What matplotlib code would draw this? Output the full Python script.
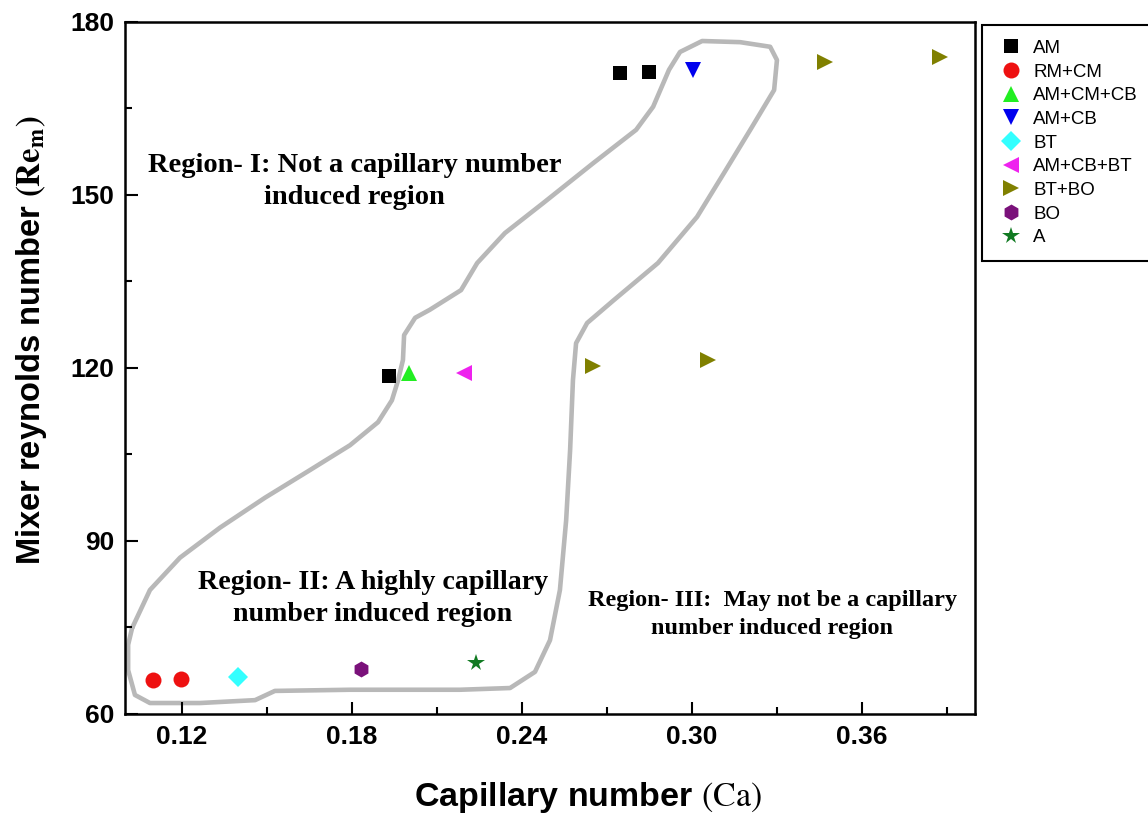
import numpy as np
import matplotlib.pyplot as plt
from matplotlib.ticker import AutoMinorLocator

plt.rcParams['font.family'] = ['Liberation Sans', 'DejaVu Sans']
plt.rcParams['mathtext.fontset'] = 'stix'

# data (Ca, Re_m)
labels = ["AM", "RM+CM", "AM+CM+CB", "AM+CB", "BT", "AM+CB+BT", "BT+BO", "BO", "A"]
am_x = [0.2747, 0.2851, 0.1933]
am_y = [171.2, 171.4, 118.6]
rmcm_x = [0.1099, 0.1198]
rmcm_y = [65.9, 66.1]
amcmcb_x = [0.2003]
amcmcb_y = [119.2]
amcb_x = [0.3004]
amcb_y = [171.7]
bt_x = [0.1399]
bt_y = [66.4]
amcbbt_x = [0.2196]
amcbbt_y = [119.2]
btbo_x = [0.2653, 0.3059, 0.3471, 0.3877]
btbo_y = [120.3, 121.3, 173.0, 174.0]
bo_x = [0.1833]
bo_y = [67.8]
a_x = [0.2239]
a_y = [68.8]

# hand-drawn boundary of region II
outline_x = [0.1025, 0.1088, 0.1194, 0.1335, 0.1494, 0.1653, 0.1794, 0.1893, 0.1942,
             0.1964, 0.1981, 0.1985, 0.2024, 0.2076, 0.2186, 0.2243, 0.2341, 0.2476,
             0.2652, 0.2804, 0.2864, 0.2920, 0.2959, 0.3037, 0.3171, 0.3277, 0.3301,
             0.3291, 0.3213, 0.3114, 0.3019, 0.2881, 0.2726, 0.2631, 0.2592, 0.2581,
             0.2571, 0.2557, 0.2535, 0.2500, 0.2447, 0.2359, 0.2182, 0.1794, 0.1529,
             0.1459, 0.1265, 0.1088, 0.1035, 0.1011, 0.1011, 0.1025]
outline_y = [74.9, 81.5, 87.1, 92.3, 97.5, 102.3, 106.6, 110.6, 114.4,
             117.9, 121.4, 125.7, 128.7, 130.1, 133.5, 138.2, 143.4, 148.6,
             155.5, 161.3, 165.3, 171.7, 174.8, 176.7, 176.5, 175.7, 173.4,
             168.2, 161.8, 153.8, 146.2, 138.2, 131.8, 127.8, 124.3, 117.9,
             105.8, 93.6, 81.5, 72.8, 67.3, 64.5, 64.2, 64.2, 64.0,
             62.4, 61.9, 61.9, 63.3, 67.6, 72.0, 74.9]

x_ticks = [0.12, 0.18, 0.24, 0.30, 0.36]
y_ticks = [60, 90, 120, 150, 180]

fig = plt.figure(figsize=(11.48, 8.17), dpi=100)
ax = fig.add_axes([0.1089, 0.1261, 0.7404, 0.8470])

ax.plot(outline_x, outline_y, color='#b8b8b8', lw=3.3, solid_joinstyle='round',
        solid_capstyle='round', zorder=1)

series = [
    (am_x, am_y, 's', 'black', 10),
    (rmcm_x, rmcm_y, 'o', '#ee1111', 11.5),
    (amcmcb_x, amcmcb_y, '^', '#22ee22', 12),
    (amcb_x, amcb_y, 'v', '#0000ee', 12),
    (bt_x, bt_y, 'D', '#33ffff', 10),
    (amcbbt_x, amcbbt_y, '<', '#ee22ee', 12),
    (btbo_x, btbo_y, '>', '#808000', 12),
    (bo_x, bo_y, 'h', '#7a117a', 11.5),
    (a_x, a_y, '*', '#117a22', 13),
]
for (xs, ys, m, c, ms), lab in zip(series, labels):
    ax.plot(xs, ys, linestyle='none', marker=m, color=c, markersize=ms,
            markeredgewidth=0, label=lab, zorder=3)

ax.set_xlim(0.10, 0.40)
ax.set_ylim(60, 180)
ax.set_xticks(x_ticks)
ax.set_xticklabels(['%.2f' % t for t in x_ticks])
ax.set_yticks(y_ticks)
ax.xaxis.set_minor_locator(AutoMinorLocator(2))
ax.yaxis.set_minor_locator(AutoMinorLocator(2))
ax.tick_params(which='major', direction='in', length=9, width=1.5,
               labelsize=19, pad=8)
ax.tick_params(which='minor', direction='in', length=5, width=1.5)
for t in ax.get_xticklabels() + ax.get_yticklabels():
    t.set_fontweight('bold')
for s in ax.spines.values():
    s.set_linewidth(1.8)

ax.set_xlabel(r'Capillary number $\mathrm{(Ca)}$', fontsize=24.5,
              fontweight='bold')
ax.xaxis.set_label_coords(0.545, -0.12)
ax.xaxis.label.set_va('center')
ax.set_ylabel(r'Mixer reynolds number $\mathbf{(Re_m)}$', fontsize=23.5,
              fontweight='bold')
ax.yaxis.set_label_coords(-0.110, 0.54)
ax.yaxis.label.set_va('center')

serif = dict(family=['Liberation Serif', 'DejaVu Serif'], fontweight='bold',
             ha='center', va='center')
ax.text(0.1810, 152.4, 'Region- I: Not a capillary number\ninduced region',
        fontsize=20.5, linespacing=1.37, **serif)
ax.text(0.1875, 80.1, 'Region- II: A highly capillary\nnumber induced region',
        fontsize=20.2, linespacing=1.37, **serif)
ax.text(0.3284, 77.2, 'Region- III:  May not be a capillary\nnumber induced region',
        fontsize=17.5, linespacing=1.45, **serif)

leg = ax.legend(loc='upper left', bbox_to_anchor=(1.008, 0.996), fontsize=13.5,
                frameon=True, fancybox=False, edgecolor='black', framealpha=1,
                borderpad=0.8, labelspacing=0.35, handletextpad=0.45,
                handlelength=1.5, borderaxespad=0)
leg.get_frame().set_linewidth(1.5)

fig.savefig('out.png', dpi=100)
